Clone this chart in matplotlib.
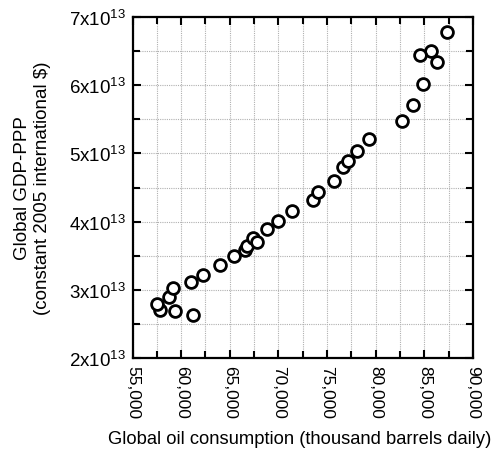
import matplotlib
matplotlib.use("Agg")
import matplotlib.pyplot as plt
from matplotlib.ticker import MultipleLocator, FuncFormatter

plt.rcParams['font.family'] = ['Liberation Sans', 'DejaVu Sans']
plt.rcParams['mathtext.fontset'] = 'custom'
plt.rcParams['mathtext.rm'] = 'Liberation Sans'
plt.rcParams['mathtext.it'] = 'Liberation Sans:italic'
plt.rcParams['mathtext.bf'] = 'Liberation Sans:bold'

# Global oil consumption (thousand barrels daily) and GDP-PPP (constant 2005 intl $)
oil = [61250, 59370, 57830, 57550, 58780, 59200, 60980, 62210, 64000, 65430,
       66590, 66730, 67410, 67760, 68860, 70000, 71400, 73520, 74100, 75710,
       76600, 77180, 78050, 79350, 82660, 83850, 84810, 86300, 85730, 84600,
       87370]
gdp = [2.635e13, 2.69e13, 2.71e13, 2.79e13, 2.90e13, 3.02e13, 3.11e13, 3.22e13,
       3.37e13, 3.50e13, 3.59e13, 3.64e13, 3.76e13, 3.70e13, 3.89e13, 4.01e13,
       4.155e13, 4.32e13, 4.43e13, 4.59e13, 4.80e13, 4.89e13, 5.03e13, 5.21e13,
       5.48e13, 5.71e13, 6.02e13, 6.34e13, 6.50e13, 6.44e13, 6.78e13]

x_label = "Global oil consumption (thousand barrels daily)"
y_label = "Global GDP-PPP\n(constant 2005 international $)"

fig = plt.figure(figsize=(4.96, 4.60), dpi=100)
ax = fig.add_axes([132.5 / 496, 101 / 460, 340.5 / 496, 341 / 460])

ax.plot(oil, gdp, linestyle='none', marker='o', markersize=8.5,
        markerfacecolor='white', markeredgecolor='black', markeredgewidth=2.0,
        zorder=3, clip_on=False)

ax.set_xlim(55000, 90000)
ax.set_ylim(2e13, 7e13)
ax.xaxis.set_major_locator(MultipleLocator(5000))
ax.xaxis.set_minor_locator(MultipleLocator(2500))
ax.yaxis.set_major_locator(MultipleLocator(1e13))
ax.yaxis.set_minor_locator(MultipleLocator(0.5e13))

ax.xaxis.set_major_formatter(FuncFormatter(lambda v, p: f"{v:,.0f}"))
ax.yaxis.set_major_formatter(
    FuncFormatter(lambda v, p: r"$\mathregular{%dx10^{13}}$" % round(v / 1e13)))

ax.grid(True, which='both', color='#b0b0b0', linestyle=(0, (1, 1)), linewidth=0.8)
ax.set_axisbelow(True)

for s in ax.spines.values():
    s.set_linewidth(1.6)

ax.tick_params(which='both', direction='in', top=True, right=True,
               width=1.5, colors='black')
ax.tick_params(axis='x', labelsize=12.5)
ax.tick_params(axis='y', labelsize=13.5)
ax.tick_params(which='major', length=6, pad=5)
ax.tick_params(which='minor', length=5)
for lab in ax.get_xticklabels():
    lab.set_rotation(-90)
    lab.set_va('top')
    lab.set_ha('center')

ax.set_xlabel(x_label, fontsize=13.2)
ax.set_ylabel(y_label, fontsize=13.5, linespacing=1.2)
ax.xaxis.set_label_coords((300 - 132.5) / 340.5, -(431 - 359) / 341)
ax.yaxis.set_label_coords(-(132.5 - 51) / 340.5, 0.5)

fig.savefig("out.png", dpi=100)
